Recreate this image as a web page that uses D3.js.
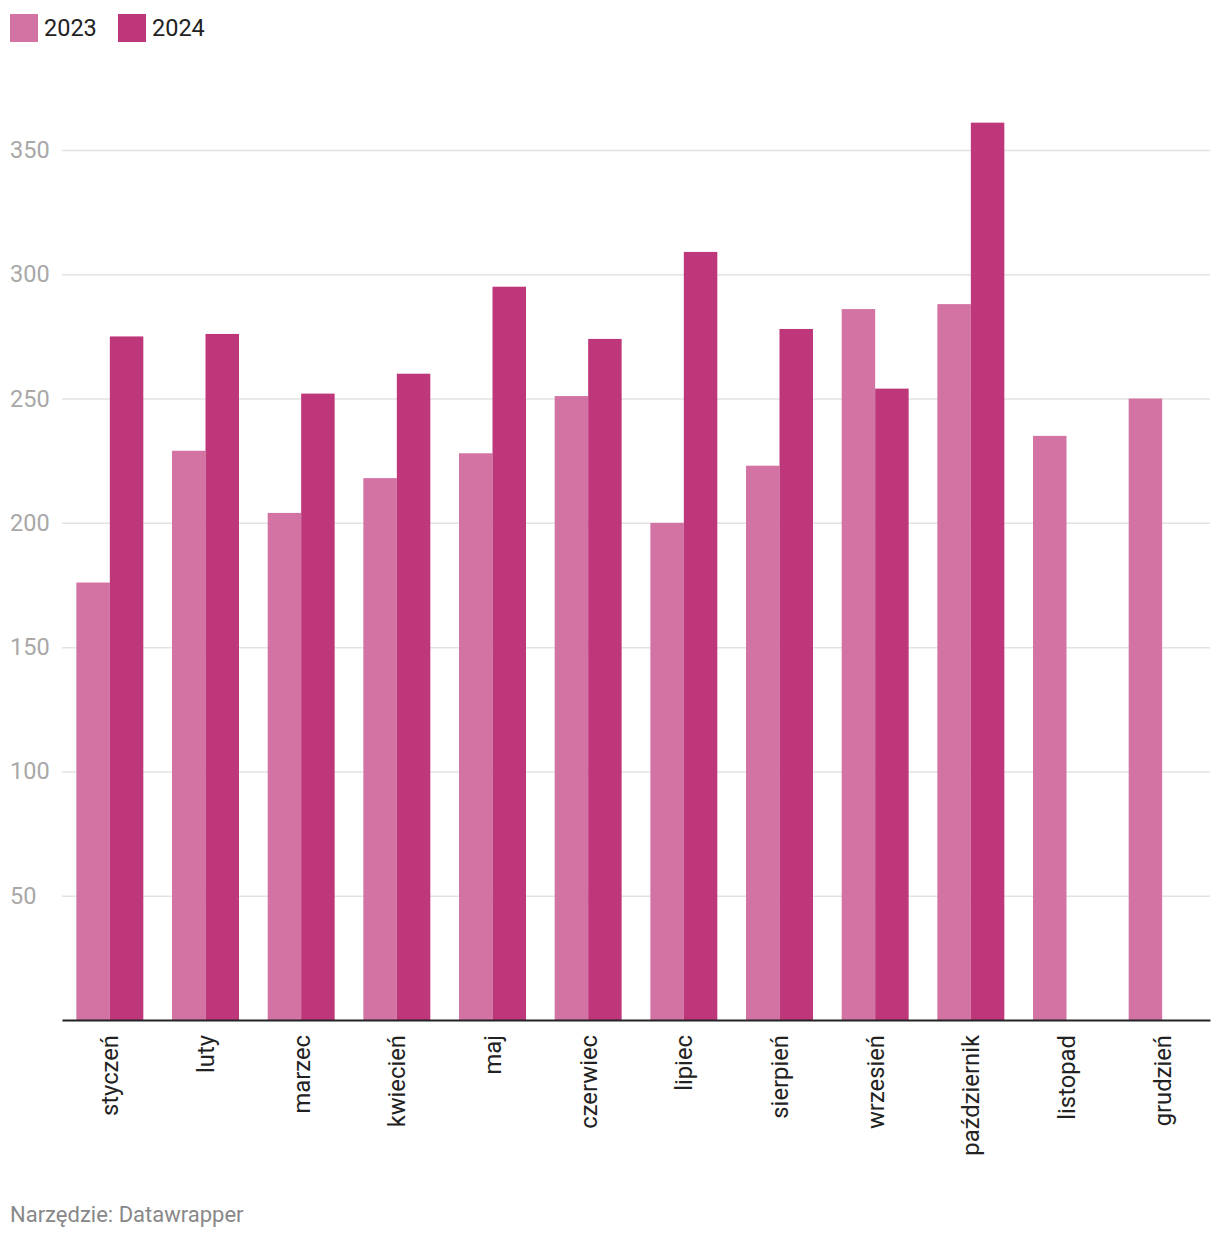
<!DOCTYPE html>
<html><head><meta charset="utf-8">
<script src="https://cdn.jsdelivr.net/npm/d3@7"></script>
<style>
body{margin:0;background:#fff;font-family:Roboto,"Noto Sans",sans-serif;}
</style></head>
<body>
<svg id="c" width="1220" height="1240"></svg>
<script>
const months = ["styczeń","luty","marzec","kwiecień","maj","czerwiec","lipiec","sierpień","wrzesień","październik","listopad","grudzień"];
const series = ["2023","2024"];
const values2023 = [176,229,204,218,228,251,200,223,286,288,235,250];
const values2024 = [275,276,252,260,295,274,309,278,254,361,null,null];
const yTicks = [50,100,150,200,250,300,350];
const colors = ["#d373a4","#be377b"];
const footer = "Narzędzie: Datawrapper";

(function(){
const svg = d3.select("#c");
const mLeft = 62, mRight = 1210, mBottom = 1020;
const x = d3.scaleBand().domain(months).range([mLeft,mRight]).paddingInner(0.3).paddingOuter(0.15);
const x1 = d3.scaleBand().domain(series).range([0,x.bandwidth()]);
const y = d3.scaleLinear().domain([0,350]).range([mBottom,150]);

// gridlines
const ga = svg.append("g").attr("transform",`translate(${mLeft},0)`)
  .call(d3.axisLeft(y).tickValues(yTicks).tickSize(-(mRight-mLeft)).tickFormat(""));
ga.select(".domain").remove();
ga.selectAll("line").attr("stroke","#e3e3e3").attr("stroke-width",1.5);

// y labels
svg.append("g").selectAll("text").data(yTicks).join("text")
  .attr("x",10).attr("y",d=>y(d)+8)
  .attr("font-size",23.5).attr("fill","#a8a8a8").text(d=>d);

// bars
const data = months.map((m,i)=>({m, vals:[values2023[i],values2024[i]]}));
const grp = svg.append("g").selectAll("g").data(data).join("g")
  .attr("transform",d=>`translate(${x(d.m)},0)`);
grp.selectAll("rect").data(d=>d.vals.map((v,j)=>({v,s:series[j],j})).filter(e=>e.v!=null)).join("rect")
  .attr("x",e=>x1(e.s)).attr("width",x1.bandwidth())
  .attr("y",e=>y(e.v)).attr("height",e=>y(0)-y(e.v))
  .attr("fill",e=>colors[e.j]);

// x axis
const xa = svg.append("g").attr("transform",`translate(0,${mBottom})`)
  .call(d3.axisBottom(x).tickSize(0));
xa.select(".domain").attr("stroke","#222").attr("stroke-width",2);
xa.selectAll("text").attr("font-size",23.8).attr("fill","#222")
  .attr("font-family","Roboto")
  .attr("transform","rotate(-90)")
  .attr("text-anchor","end").attr("x",-15).attr("y",0).attr("dy","0.35em");

// legend
series.forEach((s,i)=>{
  const lx = 10 + i*108;
  svg.append("rect").attr("x",lx).attr("y",14).attr("width",28).attr("height",28).attr("fill",colors[i]);
  svg.append("text").attr("x",lx+34).attr("y",36).attr("font-size",23.5).attr("fill","#222").text(s);
});

svg.append("text").attr("x",10).attr("y",1222).attr("font-size",22).attr("fill","#888").text(footer);
})();
</script>
</body></html>
